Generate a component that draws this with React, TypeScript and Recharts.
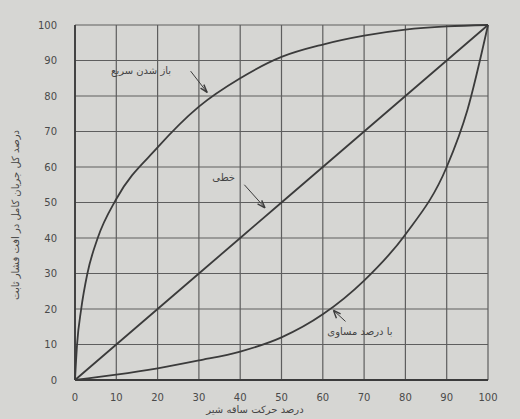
import { LineChart, Line, XAxis, YAxis, CartesianGrid, ReferenceLine, ReferenceDot, Label } from 'recharts';

// stem travel (%) -> flow (%)
const ticks = [0, 10, 20, 30, 40, 50, 60, 70, 80, 90, 100];

const quickX = [0, 0.5, 1.5, 3, 5.5, 10, 20, 30, 40, 50, 60, 70, 80, 90, 100];
const quickY = [0, 10, 20, 30, 40, 51, 65.5, 77, 85, 91, 94.5, 97, 98.7, 99.6, 100];

const linearX = [0, 10, 20, 30, 40, 50, 60, 70, 80, 90, 100];
const linearY = [0, 10, 20, 30, 40, 50, 60, 70, 80, 90, 100];

const equalX = [0, 10, 20, 30, 40, 50, 60, 70, 80, 90, 95, 100];
const equalY = [0, 1.5, 3.3, 5.5, 8, 12, 18.5, 28, 41, 60, 76, 100];

const quickData = quickX.map((x, i) => ({ x, y: quickY[i] }));
const linearData = linearX.map((x, i) => ({ x, y: linearY[i] }));
const equalData = equalX.map((x, i) => ({ x, y: equalY[i] }));

const FONT = '"DejaVu Sans", sans-serif';
const INK = '#3b3b3b';

const textLabel = (text: string) => (props: any) => {
  const { viewBox } = props;
  const cx = viewBox.cx ?? viewBox.x;
  const cy = viewBox.cy ?? viewBox.y;
  return (
    <text x={cx} y={cy} textAnchor="middle" dominantBaseline="middle"
      fontFamily={FONT} fontSize={10} fill="#444" direction="rtl">
      {text}
    </text>
  );
};

export default function App() {
  return (
    <div style={{ position: 'fixed', left: 0, top: 0, width: 520, height: 419, background: '#d6d6d3' }}>
      <LineChart width={520} height={419} margin={{ top: 25, right: 32, left: 0, bottom: 0 }}>
        <CartesianGrid stroke="#5e5e5e" strokeWidth={1.2} />
        <XAxis
          type="number"
          dataKey="x"
          domain={[0, 100]}
          ticks={ticks}
          height={39}
          tickLine={false}
          axisLine={{ stroke: INK, strokeWidth: 1.8 }}
          tickMargin={8}
          tick={{ fill: '#4a4a4a', fontSize: 10, fontFamily: FONT }}
        >
          <Label
            content={() => (
              <text x={255} y={413} textAnchor="middle" fontFamily={FONT} fontSize={10} fill="#444" direction="rtl">
                درصد حرکت ساقه شیر
              </text>
            )}
          />
        </XAxis>
        <YAxis
          type="number"
          domain={[0, 100]}
          ticks={ticks}
          width={75}
          tickLine={false}
          axisLine={{ stroke: INK, strokeWidth: 1.8 }}
          tickMargin={12}
          tick={{ fill: '#4a4a4a', fontSize: 10, fontFamily: FONT }}
        >
          <Label
            content={() => (
              <text x={16} y={215} transform="rotate(-90 16 215)" textAnchor="middle" dominantBaseline="middle"
                fontFamily={FONT} fontSize={10} fill="#444" direction="rtl">
                درصد کل جریان کامل در افت فشار ثابت
              </text>
            )}
          />
        </YAxis>

        <Line data={quickData} dataKey="y" type="monotone" stroke={INK} strokeWidth={1.8} dot={false} isAnimationActive={false} />
        <Line data={linearData} dataKey="y" type="linear" stroke={INK} strokeWidth={1.8} dot={false} isAnimationActive={false} />
        <Line data={equalData} dataKey="y" type="monotone" stroke={INK} strokeWidth={1.8} dot={false} isAnimationActive={false} />

        {/* annotation leaders with small arrow heads */}
        <ReferenceLine segment={[{ x: 28, y: 87 }, { x: 32, y: 81 }]} stroke={INK} strokeWidth={1} />
        <ReferenceLine segment={[{ x: 32, y: 81 }, { x: 31.2, y: 83.2 }]} stroke={INK} strokeWidth={1.4} />
        <ReferenceLine segment={[{ x: 32, y: 81 }, { x: 30.4, y: 82.2 }]} stroke={INK} strokeWidth={1.4} />

        <ReferenceLine segment={[{ x: 41, y: 55 }, { x: 46, y: 48.5 }]} stroke={INK} strokeWidth={1} />
        <ReferenceLine segment={[{ x: 46, y: 48.5 }, { x: 44.2, y: 49.6 }]} stroke={INK} strokeWidth={1.4} />
        <ReferenceLine segment={[{ x: 46, y: 48.5 }, { x: 45.2, y: 50.6 }]} stroke={INK} strokeWidth={1.4} />

        <ReferenceLine segment={[{ x: 65.5, y: 16.5 }, { x: 62.6, y: 19.6 }]} stroke={INK} strokeWidth={1} />
        <ReferenceLine segment={[{ x: 62.6, y: 19.6 }, { x: 63.3, y: 17.4 }]} stroke={INK} strokeWidth={1.4} />
        <ReferenceLine segment={[{ x: 62.6, y: 19.6 }, { x: 64.3, y: 18.6 }]} stroke={INK} strokeWidth={1.4} />

        <ReferenceDot x={16} y={87} r={0} stroke="none" label={textLabel('باز شدن سریع')} />
        <ReferenceDot x={36} y={57} r={0} stroke="none" label={textLabel('خطی')} />
        <ReferenceDot x={69} y={13.5} r={0} stroke="none" label={textLabel('با درصد مساوی')} />
      </LineChart>
    </div>
  );
}
